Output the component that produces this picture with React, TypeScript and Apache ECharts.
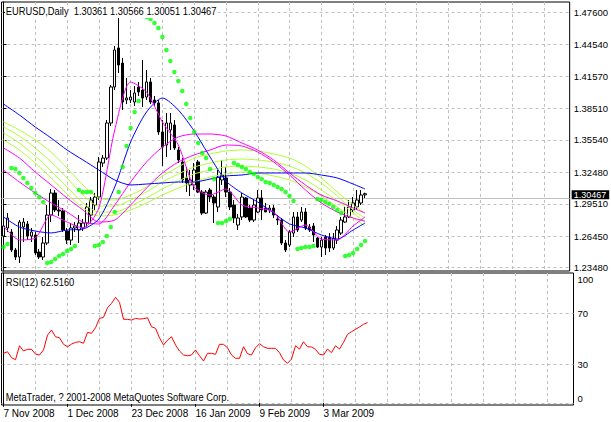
import { useEffect, useRef } from "react";
import * as echarts from "echarts";

const FONT = "'Liberation Sans', Arial, sans-serif";

const symbolName = "EURUSD,Daily";
const lastBar = [1.30361, 1.30566, 1.30051, 1.30467]; // open high low close
const copyright = "MetaTrader, ? 2001-2008 MetaQuotes Software Corp.";
const rsiPeriod = 12;

const dateLabels = ["7 Nov 2008", "1 Dec 2008", "23 Dec 2008", "16 Jan 2009", "9 Feb 2009", "3 Mar 2009"];
const priceTicks = [1.2348, 1.2645, 1.2951, 1.3248, 1.3554, 1.3851, 1.4157, 1.4454, 1.476];
const rsiLabelTicks = [0, 30, 70, 100];
const rsiGridTicks = [0, 30, 70];
const gridTicks = [8, 16, 24, 32, 40, 48, 56, 64, 72, 80, 88, 96, 104, 112, 120, 128, 136];
const slotCount = 143;

// [open, close, low, high]
const candles = [
  [1.2647, 1.2742, 1.2581, 1.2855], [1.2723, 1.2817, 1.2685, 1.2864], [1.2685, 1.2515, 1.2496, 1.2713],
  [1.2515, 1.2449, 1.2421, 1.2534], [1.2449, 1.2779, 1.2392, 1.2798], [1.2732, 1.2779, 1.2591, 1.2817],
  [1.2760, 1.2647, 1.2609, 1.2789], [1.2647, 1.2685, 1.2591, 1.2723], [1.2657, 1.2487, 1.2468, 1.2685],
  [1.2496, 1.2449, 1.2430, 1.2525], [1.2449, 1.2581, 1.2421, 1.2638], [1.2581, 1.2845, 1.2562, 1.2940],
  [1.2845, 1.3053, 1.2779, 1.3091], [1.3053, 1.2893, 1.2874, 1.3081], [1.2893, 1.2883, 1.2836, 1.2987],
  [1.2883, 1.2704, 1.2685, 1.2911], [1.2694, 1.2609, 1.2572, 1.2723], [1.2609, 1.2723, 1.2562, 1.2770],
  [1.2723, 1.2742, 1.2685, 1.2779], [1.2704, 1.2770, 1.2581, 1.2845], [1.2723, 1.2770, 1.2694, 1.2808],
  [1.2770, 1.2921, 1.2732, 1.2959], [1.2845, 1.2987, 1.2760, 1.3015], [1.2940, 1.3015, 1.2893, 1.3053],
  [1.3015, 1.3346, 1.2987, 1.3393], [1.3336, 1.3383, 1.3299, 1.3412], [1.3383, 1.3714, 1.3365, 1.3742],
  [1.3714, 1.4054, 1.3686, 1.4073], [1.4054, 1.4403, 1.4025, 1.4441], [1.4422, 1.4261, 1.4186, 1.4724],
  [1.4280, 1.3912, 1.3837, 1.4328], [1.3931, 1.3950, 1.3893, 1.4139], [1.3931, 1.3959, 1.3903, 1.4025],
  [1.3912, 1.3997, 1.3874, 1.4063], [1.4054, 1.4007, 1.3969, 1.4101], [1.4025, 1.3950, 1.3865, 1.4309],
  [1.3959, 1.4101, 1.3931, 1.4214], [1.4101, 1.3912, 1.3893, 1.4139], [1.3931, 1.3903, 1.3874, 1.3969],
  [1.3903, 1.3629, 1.3601, 1.3931], [1.3629, 1.3487, 1.3308, 1.3742], [1.3506, 1.3714, 1.3393, 1.3808],
  [1.3648, 1.3714, 1.3459, 1.3808], [1.3695, 1.3478, 1.3459, 1.3742], [1.3459, 1.3365, 1.3336, 1.3487],
  [1.3346, 1.3176, 1.3148, 1.3383], [1.3195, 1.3148, 1.3062, 1.3299], [1.3129, 1.3176, 1.3025, 1.3270],
  [1.3129, 1.3270, 1.3081, 1.3336], [1.3346, 1.3062, 1.3053, 1.3365], [1.3062, 1.2864, 1.2845, 1.3081],
  [1.2864, 1.3062, 1.2855, 1.3081], [1.3081, 1.3015, 1.2968, 1.3100], [1.3015, 1.2959, 1.2770, 1.3034],
  [1.2921, 1.3204, 1.2874, 1.3270], [1.3176, 1.3223, 1.3129, 1.3365], [1.3195, 1.3062, 1.3015, 1.3299],
  [1.3062, 1.2921, 1.2893, 1.3100], [1.2940, 1.2817, 1.2770, 1.2987], [1.2751, 1.2817, 1.2704, 1.2855],
  [1.2827, 1.3015, 1.2798, 1.3053], [1.3006, 1.2827, 1.2817, 1.3015], [1.2911, 1.2798, 1.2779, 1.2940],
  [1.2798, 1.2940, 1.2779, 1.2987], [1.2874, 1.3006, 1.2864, 1.3081], [1.3006, 1.2893, 1.2798, 1.3081],
  [1.2911, 1.2874, 1.2874, 1.2959], [1.2893, 1.2911, 1.2864, 1.2940], [1.2911, 1.2845, 1.2817, 1.2940],
  [1.2808, 1.2798, 1.2751, 1.2845], [1.2798, 1.2581, 1.2562, 1.2817], [1.2581, 1.2515, 1.2496, 1.2609],
  [1.2562, 1.2685, 1.2543, 1.2704], [1.2675, 1.2827, 1.2638, 1.2874], [1.2827, 1.2704, 1.2685, 1.2874],
  [1.2798, 1.2874, 1.2779, 1.2921], [1.2874, 1.2723, 1.2704, 1.2911], [1.2732, 1.2704, 1.2685, 1.2760],
  [1.2742, 1.2657, 1.2591, 1.2770], [1.2628, 1.2543, 1.2534, 1.2638], [1.2543, 1.2609, 1.2449, 1.2638],
  [1.2638, 1.2534, 1.2468, 1.2657], [1.2638, 1.2534, 1.2496, 1.2675], [1.2534, 1.2628, 1.2515, 1.2675],
  [1.2609, 1.2704, 1.2572, 1.2742], [1.2675, 1.2798, 1.2657, 1.2827], [1.2779, 1.2827, 1.2770, 1.2921],
  [1.2827, 1.2921, 1.2817, 1.2987], [1.2893, 1.2959, 1.2874, 1.3015], [1.2921, 1.2987, 1.2893, 1.3081],
  [1.2959, 1.3034, 1.2940, 1.3081], [1.30361, 1.30467, 1.30051, 1.30566],
];

const sar = [
  1.2543, 1.2572, 1.3289, 1.3280, 1.3242, 1.3195, 1.3148, 1.3100, 1.3053, 1.3015, 1.2968,
  1.2392, 1.2402, 1.2430, 1.2458, 1.2477, 1.2506, 1.2525, 1.2553, 1.3082, 1.3063, 1.3063, 1.3063,
  1.2553, 1.2562, 1.2591, 1.2647, 1.2732, 1.2874, 1.3063, 1.3299, 1.3497, 1.3667, 1.3818, 1.3922,
  1.4724, 1.4715, 1.4696, 1.4658, 1.4611, 1.4526, 1.4403, 1.4299, 1.4195, 1.4110, 1.4016, 1.3893,
  1.3761, 1.3629, 1.3525, 1.3431, 1.3384, 1.3280, 1.3185,
  1.2770, 1.2770, 1.2789, 1.2808,
  1.3336, 1.3318, 1.3299, 1.3280, 1.3251, 1.3233, 1.3204, 1.3185, 1.3157, 1.3148, 1.3129, 1.3110,
  1.3091, 1.3063, 1.3025, 1.2978,
  1.2525, 1.2534, 1.2543, 1.2543, 1.2553,
  1.2996, 1.2987, 1.2968, 1.2949, 1.2921, 1.2893, 1.2864,
  1.2458, 1.2468, 1.2487, 1.2525, 1.2562, 1.2600,
];

const sampleIdx = [0, 4, 8, 12, 16, 20, 24, 28, 32, 36, 40, 44, 48, 52, 56, 60, 64, 68, 72, 76, 80, 84, 88, 91];
const blueSlow = [1.3893, 1.3790, 1.3676, 1.3572, 1.3459, 1.3365, 1.3270, 1.3176, 1.3129, 1.3138, 1.3148, 1.3157, 1.3157, 1.3185, 1.3214, 1.3223, 1.3242, 1.3242, 1.3242, 1.3242, 1.3223, 1.3195, 1.3138, 1.3091];
const blueFast = [1.2827, 1.2732, 1.2694, 1.2676, 1.2704, 1.2713, 1.2808, 1.3110, 1.3535, 1.3818, 1.3950, 1.3837, 1.3638, 1.3393, 1.3166, 1.3053, 1.2968, 1.2864, 1.2761, 1.2723, 1.2657, 1.2619, 1.2704, 1.2770];
const magFast = [1.2742, 1.2610, 1.2628, 1.2846, 1.2779, 1.2723, 1.2912, 1.3648, 1.4101, 1.4007, 1.3723, 1.3506, 1.3110, 1.3034, 1.3091, 1.2940, 1.2912, 1.2874, 1.2685, 1.2751, 1.2619, 1.2610, 1.2742, 1.2827];
const magSlow1 = [1.3270, 1.3157, 1.3053, 1.2959, 1.2874, 1.2779, 1.2761, 1.2940, 1.3157, 1.3346, 1.3487, 1.3582, 1.3610, 1.3610, 1.3591, 1.3525, 1.3459, 1.3365, 1.3242, 1.3129, 1.3034, 1.2978, 1.2912, 1.2864];
const magSlow2 = [1.3478, 1.3384, 1.3251, 1.3129, 1.3006, 1.2893, 1.2779, 1.2798, 1.2940, 1.3100, 1.3242, 1.3346, 1.3412, 1.3459, 1.3506, 1.3497, 1.3440, 1.3346, 1.3223, 1.3082, 1.2959, 1.2874, 1.2817, 1.2789];
const yg1 = [1.3723, 1.3648, 1.3554, 1.3440, 1.3289, 1.3129, 1.3006, 1.2987, 1.3034, 1.3110, 1.3214, 1.3299, 1.3384, 1.3421, 1.3450, 1.3459, 1.3450, 1.3421, 1.3384, 1.3308, 1.3195, 1.3063, 1.2940, 1.2864];
const yg2 = [1.3676, 1.3591, 1.3478, 1.3346, 1.3195, 1.3034, 1.2930, 1.2930, 1.2987, 1.3063, 1.3157, 1.3233, 1.3299, 1.3336, 1.3365, 1.3374, 1.3365, 1.3346, 1.3308, 1.3242, 1.3148, 1.3025, 1.2893, 1.2817];
const yg3 = [1.3620, 1.3525, 1.3402, 1.3261, 1.3110, 1.2959, 1.2874, 1.2874, 1.2930, 1.3006, 1.3091, 1.3166, 1.3233, 1.3270, 1.3299, 1.3308, 1.3299, 1.3280, 1.3242, 1.3176, 1.3082, 1.2978, 1.2864, 1.2779];
const yg4 = [1.3554, 1.3459, 1.3336, 1.3195, 1.3044, 1.2912, 1.2836, 1.2846, 1.2893, 1.2959, 1.3034, 1.3100, 1.3157, 1.3204, 1.3233, 1.3251, 1.3242, 1.3214, 1.3176, 1.3110, 1.3025, 1.2921, 1.2817, 1.2742];

const rsi = [
  38.6, 39.8, 35.2, 33.6, 44.5, 40.4, 41.7, 41.7, 38.0, 37.3,
  41.2, 52.8, 56.7, 51.5, 50.7, 45.6, 43.7, 45.8, 47.1, 47.6,
  46.4, 54.9, 54.2, 58.5, 65.8, 66.6, 74.1, 77.5, 82.2, 78.3,
  65.1, 65.1, 64.5, 65.8, 65.3, 65.6, 66.3, 59.3, 58.1, 50.7,
  45.1, 48.9, 51.5, 45.1, 40.4, 37.3, 36.7, 37.3, 41.2, 36.7,
  32.6, 38.6, 38.6, 37.8, 45.6, 45.6, 42.9, 37.3, 34.7, 34.7,
  43.7, 38.3, 37.3, 42.9, 46.1, 43.7, 42.5, 42.5, 42.5, 39.1,
  33.4, 30.8, 34.1, 44.5, 41.9, 47.6, 43.7, 43.5, 41.7, 37.8,
  37.3, 41.9, 39.1, 44.5, 41.9, 47.1, 53.4, 55.4, 57.3, 59.1,
  61.2, 62.516,
];

const GRID_DASH = { color: "#c0c0c0", type: [3, 3] as number[], width: 1 };

function buildOption() {
  const cats = Array.from({ length: slotCount }, (_, i) => String(i));
  const showDate = (idx: number) => idx % 16 === 0 && idx / 16 < dateLabels.length;
  const pairs = (vals: number[]) => sampleIdx.map((x, k) => [x, vals[k]]);
  const maLine = (name: string, vals: number[], color: string, z: number) => ({
    name,
    type: "line",
    xAxisIndex: 0,
    yAxisIndex: 0,
    data: pairs(vals),
    symbol: "none",
    smooth: 0.25,
    silent: true,
    z,
    lineStyle: { width: 1, color },
  });
  const header = `${symbolName}\u00a0\u00a0${lastBar.map((v) => v.toFixed(5)).join(" ")}`;
  const rsiText = `RSI(${rsiPeriod}) ${rsi[rsi.length - 1].toFixed(4)}`;
  const textEl = (text: string, x: number, y: number) => ({
    type: "text",
    x,
    y,
    scaleX: 0.85,
    z: 100,
    silent: true,
    style: {
      text,
      fill: "#000",
      font: `11px ${FONT}`,
      verticalAlign: "middle",
      backgroundColor: "#fff",
      padding: [1, 1, 1, 1],
    },
  });

  return {
    animation: false,
    backgroundColor: "#fff",
    grid: [
      { left: 1.5, width: 572, top: 2, height: 269, show: true, borderColor: "#000", borderWidth: 1, backgroundColor: "transparent" },
      { left: 1.5, width: 572, top: 273, height: 132, show: true, borderColor: "#000", borderWidth: 1, backgroundColor: "transparent" },
    ],
    xAxis: [
      { type: "category", gridIndex: 0, data: cats, boundaryGap: true, show: false },
      {
        type: "category",
        gridIndex: 1,
        data: cats,
        boundaryGap: true,
        axisLine: { show: false },
        splitLine: { show: false },
        axisTick: { show: true, alignWithLabel: true, interval: showDate, length: 4, lineStyle: { color: "#000" } },
        axisLabel: {
          interval: showDate,
          formatter: (_v: string, idx: number) => dateLabels[idx / 16] ?? "",
          align: "left",
          margin: 3,
          color: "#000",
          fontSize: 10,
          fontFamily: FONT,
        },
      },
      {
        type: "value", gridIndex: 0, min: -0.5, max: slotCount - 0.5,
        axisLine: { show: false }, axisLabel: { show: false },
        axisTick: { show: false, customValues: gridTicks },
        splitLine: { show: true, lineStyle: GRID_DASH },
      },
      {
        type: "value", gridIndex: 1, min: -0.5, max: slotCount - 0.5,
        axisLine: { show: false }, axisLabel: { show: false },
        axisTick: { show: false, customValues: gridTicks },
        splitLine: { show: true, lineStyle: GRID_DASH },
      },
    ],
    yAxis: [
      {
        type: "value",
        gridIndex: 0,
        position: "right",
        min: 1.2317,
        max: 1.4856,
        axisLine: { show: true, lineStyle: { color: "#000" } },
        axisTick: { show: true, length: 3, customValues: priceTicks, lineStyle: { color: "#000" } },
        axisLabel: {
          customValues: priceTicks,
          formatter: (v: number) => v.toFixed(5),
          margin: 4,
          color: "#000",
          fontSize: 9.5,
          fontFamily: FONT,
        },
        splitLine: { show: true, lineStyle: GRID_DASH },
      },
      {
        type: "value",
        gridIndex: 1,
        position: "right",
        min: -1.7,
        max: 101.2,
        axisLine: { show: true, lineStyle: { color: "#000" } },
        axisTick: { show: false, customValues: rsiGridTicks },
        axisLabel: {
          customValues: rsiLabelTicks,
          formatter: (v: number) => (v === 100 ? "{t|100}" : v === 0 ? "{b|0}" : String(v)),
          rich: {
            t: { padding: [10, 0, 0, 0], fontSize: 9.5, fontFamily: FONT, color: "#000" },
            b: { padding: [0, 0, 9, 0], fontSize: 9.5, fontFamily: FONT, color: "#000" },
          },
          margin: 4,
          color: "#000",
          fontSize: 9.5,
          fontFamily: FONT,
        },
        splitLine: { show: true, lineStyle: GRID_DASH },
      },
    ],
    series: [
      {
        name: "price",
        type: "candlestick",
        xAxisIndex: 0,
        yAxisIndex: 0,
        data: candles,
        barWidth: 3,
        z: 2,
        silent: true,
        itemStyle: { color: "#fff", color0: "#000", borderColor: "#000", borderColor0: "#000", borderWidth: 1 },
        markLine: {
          silent: true,
          symbol: "none",
          z: 1,
          lineStyle: { color: "#c0c0c0", type: "solid", width: 1 },
          label: {
            position: "end",
            distance: 2,
            offset: [0, -4],
            formatter: () => lastBar[3].toFixed(5),
            color: "#fff",
            backgroundColor: "#000",
            padding: [0, 3, 0, 2],
            fontSize: 9,
            fontFamily: FONT,
          },
          data: [{ yAxis: lastBar[3] }],
        },
      },
      maLine("yg1", yg1, "#adff2f", 3),
      maLine("yg2", yg2, "#adff2f", 3),
      maLine("yg3", yg3, "#adff2f", 3),
      maLine("yg4", yg4, "#adff2f", 3),
      maLine("magSlow2", magSlow2, "#ff00ff", 4),
      maLine("magSlow1", magSlow1, "#ff00ff", 4),
      maLine("blueSlow", blueSlow, "#0000ff", 5),
      maLine("blueFast", blueFast, "#0000ff", 5),
      maLine("magFast", magFast, "#ff00ff", 6),
      {
        name: "sar",
        type: "scatter",
        xAxisIndex: 0,
        yAxisIndex: 0,
        data: sar.map((v, i) => [i, v]),
        symbol: "circle",
        symbolSize: 4.5,
        silent: true,
        z: 7,
        itemStyle: { color: "#00ff00" },
      },
      {
        name: "rsi",
        type: "line",
        xAxisIndex: 1,
        yAxisIndex: 1,
        data: rsi,
        symbol: "none",
        silent: true,
        lineStyle: { width: 1, color: "#ff0000" },
        z: 5,
      },
    ],
    graphic: [
      textEl(header, 5, 11.5),
      textEl(rsiText, 5, 282.5),
      textEl(copyright, 5, 397.5),
    ],
  };
}

export default function App() {
  const ref = useRef<HTMLDivElement>(null);
  useEffect(() => {
    if (!ref.current) return;
    const chart = echarts.init(ref.current, null, { renderer: "svg" });
    chart.setOption(buildOption() as any);
    return () => chart.dispose();
  }, []);
  return (
    <div
      ref={ref}
      style={{ position: "fixed", left: 0, top: 0, width: 611, height: 422, background: "#fff" }}
    />
  );
}
